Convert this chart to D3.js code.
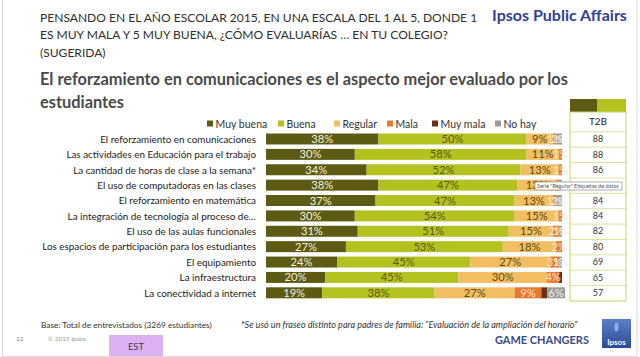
<!DOCTYPE html>
<html><head><meta charset="utf-8">
<script src="https://cdn.jsdelivr.net/npm/d3@7"></script>
<style>html,body{margin:0;padding:0;background:#fff;}svg{display:block;font-family:Lato,"Open Sans",sans-serif;}</style>
</head><body>
<svg id="c" width="640" height="357"></svg>
<script>
const categories = [
  "El reforzamiento en comunicaciones",
  "Las actividades en Educación para el trabajo",
  "La cantidad de horas de clase a la semana*",
  "El uso de computadoras en las clases",
  "El reforzamiento en matemática",
  "La integración de tecnología al proceso de…",
  "El uso de las aulas funcionales",
  "Los espacios de participación para los estudiantes",
  "El equipamiento",
  "La infraestructura",
  "La conectividad a internet"
];
const seriesNames = ["Muy buena","Buena","Regular","Mala","Muy mala","No hay"];
const muyBuena = [38,30,34,38,37,30,31,27,24,20,19];
const buena    = [50,58,52,47,47,54,51,53,45,45,38];
const regular  = [9,11,13,13,13,15,15,18,27,30,27];
const mala     = [1,1,1,1,1,1,2,2,3,4,9];
const muyMala  = [0,0,0,0,0,0,0,0,0,1,2];
const noHay    = [2,0,0,1,2,0,1,0,1,0,6];
const t2b      = [88,88,86,null,84,84,82,80,69,65,57];
const xTicks   = [0,100];

const colors = ["#5d5a14","#b4c21f","#f1bf62","#e8782e","#6c3114","#9b9b9b"];
const labelColors = ["#f4f1dc","#5d5a14","#5a4a12","#fbe6d6",null,"#f2f2f2"];

const svg = d3.select("#c");
function fit(sel, width){
  const w = sel.node().getComputedTextLength();
  const fs = parseFloat(sel.attr("font-size"));
  const nfs = fs*width/w;
  sel.attr("font-size", nfs);
  return nfs;
}

// slide border
svg.append("rect").attr("x",2.5).attr("y",-2).attr("width",634.5).attr("height",358.5)
  .attr("fill","none").attr("stroke","#d9d9d9").attr("stroke-width",1);

// Titles
const t1 = svg.append("text").attr("x",40).attr("y",21.5).attr("font-size",13).attr("fill","#2e2e2e")
  .text("PENSANDO EN EL AÑO ESCOLAR 2015, EN UNA ESCALA DEL 1 AL 5, DONDE 1");
const tfs = fit(t1, 438);
svg.append("text").attr("x",40).attr("y",39).attr("font-size",tfs).attr("fill","#2e2e2e")
  .text("ES MUY MALA Y 5 MUY BUENA, ¿CÓMO EVALUARÍAS … EN TU COLEGIO?");
svg.append("text").attr("x",40).attr("y",56.5).attr("font-size",tfs).attr("fill","#2e2e2e")
  .text("(SUGERIDA)");
const ip = svg.append("text").attr("x",492).attr("y",21).attr("font-size",14).attr("font-weight","bold")
  .attr("fill","#33409a").text("Ipsos Public Affairs");
fit(ip,135);

const h1 = svg.append("text").attr("x",40).attr("y",85).attr("font-size",18).attr("font-weight","bold")
  .attr("fill","#4a4a4a").text("El reforzamiento en comunicaciones es el aspecto mejor evaluado por los");
const hfs = fit(h1, 528);
svg.append("text").attr("x",40).attr("y",108).attr("font-size",hfs).attr("font-weight","bold")
  .attr("fill","#4a4a4a").text("estudiantes");

// Legend
const legendX = [207,278,334,387,432,495];
const lg = svg.append("g");
seriesNames.forEach((n,i)=>{
  lg.append("rect").attr("x",legendX[i]).attr("y",120.5).attr("width",6).attr("height",6).attr("fill",colors[i]);
  lg.append("text").attr("x",legendX[i]+8.5).attr("y",127.5).attr("font-size",10.5).attr("fill","#333").text(n);
});

// Scales
const x = d3.scaleLinear().domain([xTicks[0], xTicks[1]]).range([266,562]);
const y = d3.scaleBand().domain(categories).range([131.3,300.5]).paddingInner(0.286).paddingOuter(0.143);

// Category labels
const catG = svg.append("g");
const cl = catG.selectAll("text").data(categories).join("text")
  .attr("x",256).attr("y",d=>y(d)+y.bandwidth()/2+3.8).attr("text-anchor","end")
  .attr("font-size",11).attr("fill","#222").text(d=>d);
// fit longest label to measured width
const longest = cl.filter(d=>d.startsWith("Los espacios"));
const cfs = fit(longest, 214);
cl.attr("font-size", cfs);

// Stacked data
const seriesVals = [muyBuena,buena,regular,mala,muyMala,noHay];
const rows = categories.map((c,i)=>{
  const o = {cat:c};
  seriesNames.forEach((n,j)=>o[n]=seriesVals[j][i]);
  return o;
});
const stack = d3.stack().keys(seriesNames)(rows);

const barsG = svg.append("g");
stack.forEach((s,si)=>{
  barsG.append("g").attr("fill",colors[si]).selectAll("rect").data(s).join("rect")
    .attr("x",d=>x(d[0])).attr("y",d=>y(d.data.cat))
    .attr("width",d=>Math.max(0,x(d[1])-x(d[0]))).attr("height",y.bandwidth());
});
stack.forEach((s,si)=>{
  if(!labelColors[si]) return;
  barsG.append("g").selectAll("text").data(s.filter(d=>d[1]-d[0]>0)).join("text")
    .attr("x",d=>(x(d[0])+x(d[1]))/2).attr("y",d=>y(d.data.cat)+y.bandwidth()/2+4)
    .attr("text-anchor","middle").attr("font-size",11.2).attr("fill",labelColors[si])
    .text(d=>(d[1]-d[0])+"%");
});

// T2B table
const tX0 = 570, tX1 = 626;
const tg = svg.append("g");
tg.append("rect").attr("x",tX0).attr("y",99).attr("width",27).attr("height",13).attr("fill",colors[0]);
tg.append("rect").attr("x",tX0+27).attr("y",99).attr("width",tX1-tX0-27).attr("height",13).attr("fill",colors[1]);
const rowTop = d=>y(d)-y.step()*0.143+0.5;
tg.selectAll("line.h").data(categories).join("line")
  .attr("x1",tX0).attr("x2",tX1).attr("y1",d=>rowTop(d)).attr("y2",d=>rowTop(d))
  .attr("stroke","#dbe39b").attr("stroke-width",1);
tg.append("rect").attr("x",tX0).attr("y",112).attr("width",tX1-tX0)
  .attr("height",rowTop(categories[categories.length-1])+y.step()-112)
  .attr("fill","none").attr("stroke","#c9d560").attr("stroke-width",1);
tg.append("text").attr("x",(tX0+tX1)/2).attr("y",125).attr("text-anchor","middle")
  .attr("font-size",10).attr("fill","#222").text("T2B");
tg.selectAll("text.v").data(categories).join("text").attr("class","v")
  .attr("x",(tX0+tX1)/2).attr("y",d=>y(d)+y.bandwidth()/2+3.2).attr("text-anchor","middle")
  .attr("font-size",9).attr("fill","#333")
  .text((d,i)=>t2b[i]==null?"":t2b[i]);

// tooltip artifact
const tt = svg.append("g");
tt.append("rect").attr("x",535).attr("y",182).attr("width",87).attr("height",8)
  .attr("fill","#fff").attr("stroke","#8a8a8a").attr("stroke-width",0.7);
const ttt = tt.append("text").attr("x",537).attr("y",188.2).attr("font-size",5.5).attr("fill","#555")
  .text("Serie \"Regular\" Etiquetas de datos");
fit(ttt, 82);

// Footer
const b = svg.append("text").attr("x",41).attr("y",327.5).attr("font-size",10).attr("fill","#333")
  .text("Base: Total de entrevistados (3269 estudiantes)");
fit(b,171);
const nt = svg.append("text").attr("x",241).attr("y",327.5).attr("font-size",9).attr("font-style","italic")
  .attr("fill","#333").text("*Se  usó un fraseo distinto para padres de familia: “Evaluación de la ampliación del horario”");
fit(nt,337);
svg.append("text").attr("x",16).attr("y",340.5).attr("font-size",6.5).attr("fill","#8a8a8a").text("12");
const cp = svg.append("text").attr("x",48).attr("y",340.5).attr("font-size",6.5).attr("fill","#999").text("© 2015 Ipsos.");
fit(cp,39);
svg.append("rect").attr("x",109).attr("y",335).attr("width",54).attr("height",21).attr("fill","#dcb1f1");
svg.append("text").attr("x",136).attr("y",349.5).attr("text-anchor","middle").attr("font-size",9.5)
  .attr("fill","#4a3a5a").text("EST");
const gc = svg.append("text").attr("x",495).attr("y",344).attr("font-size",11).attr("font-weight","bold")
  .attr("fill","#3b4a8c").text("GAME CHANGERS");
fit(gc,94);

// Ipsos logo
const defs = svg.append("defs");
const gr = defs.append("linearGradient").attr("id","lg").attr("x1",0).attr("y1",0).attr("x2",0).attr("y2",1);
gr.append("stop").attr("offset","0%").attr("stop-color","#5a80c8");
gr.append("stop").attr("offset","100%").attr("stop-color","#2c4a96");
svg.append("rect").attr("x",602).attr("y",319).attr("width",29).attr("height",29).attr("fill","url(#lg)");
svg.append("ellipse").attr("cx",616.5).attr("cy",327).attr("rx",2).attr("ry",4.5).attr("fill","#8fb0e6");
svg.append("text").attr("x",616.5).attr("y",345).attr("text-anchor","middle").attr("font-size",8)
  .attr("font-weight","bold").attr("fill","#fff").text("Ipsos");
</script>
</body></html>
